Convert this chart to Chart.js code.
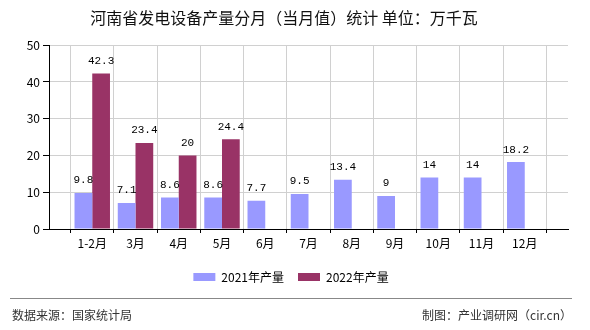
<!DOCTYPE html>
<html>
<head>
    <meta charset="utf-8">
    <style>
        body { margin: 0; background: #fff; }
        #wrap { position: relative; width: 590px; height: 330px; }
        #footLine { position: absolute; left: 10px; top: 298px; width: 562px; height: 0; border-top: 1px solid #888; }
        .foot { position: absolute; top: 307px; font: 12px "Noto Sans CJK SC", sans-serif; color: #333; line-height: 16px; }
        #srcLeft { left: 12px; }
        #srcRight { right: 18px; }
    </style>
</head>
<body>
<div id="wrap">
    <canvas id="myBarChart" width="590" height="330"></canvas>
    <div id="footLine"></div>
    <div class="foot" id="srcLeft">数据来源：国家统计局</div>
    <div class="foot" id="srcRight">制图：产业调研网（cir.cn）</div>
</div>

<script src="https://cdn.jsdelivr.net/npm/chart.js"></script>
<script>
    // 数据
    var months = ['1-2月', '3月', '4月', '5月', '6月', '7月', '8月', '9月', '10月', '11月', '12月']
    var output2021 = [9.8, 7.1, 8.6, 8.6, 7.7, 9.5, 13.4, 9, 14, 14, 18.2]
    var output2022 = [42.3, 23.4, 20, 24.4]
    var yTicks = [0, 10, 20, 30, 40, 50]

    // empty slot at both ends so the labels sit on grid lines
    var labels = [''].concat(months, [''])
    function pad(arr) {
        var out = [null]
        for (var i = 0; i < months.length; i++) {
            out.push(i < arr.length ? arr[i] : null)
        }
        out.push(null)
        return out
    }

    var barValueLabels = {
        id: 'barValueLabels',
        afterDatasetsDraw(chart) {
            var ctx = chart.ctx
            ctx.save()
            ctx.font = '11px "Liberation Mono", monospace'
            ctx.fillStyle = '#000'
            ctx.textAlign = 'center'
            ctx.textBaseline = 'bottom'
            chart.data.datasets.forEach((ds, i) => {
                chart.getDatasetMeta(i).data.forEach((bar, j) => {
                    var v = ds.data[j]
                    if (v == null) return
                    ctx.fillText(String(v), bar.x, bar.y - 7)
                })
            })
            ctx.restore()
        }
    }

    // nudge the legend a little to the right, like the original
    var legendShift = {
        id: 'legendShift',
        afterLayout(chart) {
            if (chart.legend) {
                chart.legend.left += 7
                chart.legend.right += 7
            }
        }
    }

    var ctx = document.getElementById('myBarChart').getContext('2d')
    var myBarChart = new Chart(ctx, {
        type: 'bar',
        data: {
            labels: labels,
            datasets: [{
                label: '2021年产量',
                data: pad(output2021),
                backgroundColor: '#9999ff',
                categoryPercentage: 0.82,
                barPercentage: 1
            }, {
                label: '2022年产量',
                data: pad(output2022),
                backgroundColor: '#993366',
                categoryPercentage: 0.82,
                barPercentage: 1
            }]
        },
        options: {
            responsive: false,
            animation: false,
            layout: { padding: { left: 0, right: 22, top: 0, bottom: 37 } },
            scales: {
                x: {
                    offset: false,
                    grid: { color: '#d0d0d0', tickColor: '#000', tickLength: 4 },
                    border: { color: '#000' },
                    ticks: {
                        autoSkip: false, maxRotation: 0, padding: 3, color: '#000',
                        font: { family: '"Noto Sans CJK SC"', size: 12 }
                    },
                    afterFit: function (scale) { scale.height = 28 }
                },
                y: {
                    min: yTicks[0],
                    max: yTicks[yTicks.length - 1],
                    grid: { color: '#d0d0d0', tickColor: '#000', tickLength: 6 },
                    border: { color: '#000' },
                    ticks: {
                        stepSize: yTicks[1] - yTicks[0], padding: 3, color: '#000',
                        font: { family: '"Noto Sans CJK SC"', size: 12 }
                    },
                    afterFit: function (scale) { scale.width = 49 }
                }
            },
            plugins: {
                title: {
                    display: true,
                    text: '河南省发电设备产量分月（当月值）统计 单位：万千瓦',
                    color: '#111',
                    font: { family: '"Noto Sans CJK SC"', size: 16, weight: 'normal' },
                    padding: { top: 8, bottom: 18 }
                },
                legend: {
                    position: 'bottom',
                    labels: {
                        boxWidth: 22, boxHeight: 8, padding: 14, color: '#000',
                        font: { family: '"Noto Sans CJK SC"', size: 12 }
                    }
                },
                tooltip: { enabled: false }
            }
        },
        plugins: [barValueLabels, legendShift]
    })
</script>
</body>
</html>
